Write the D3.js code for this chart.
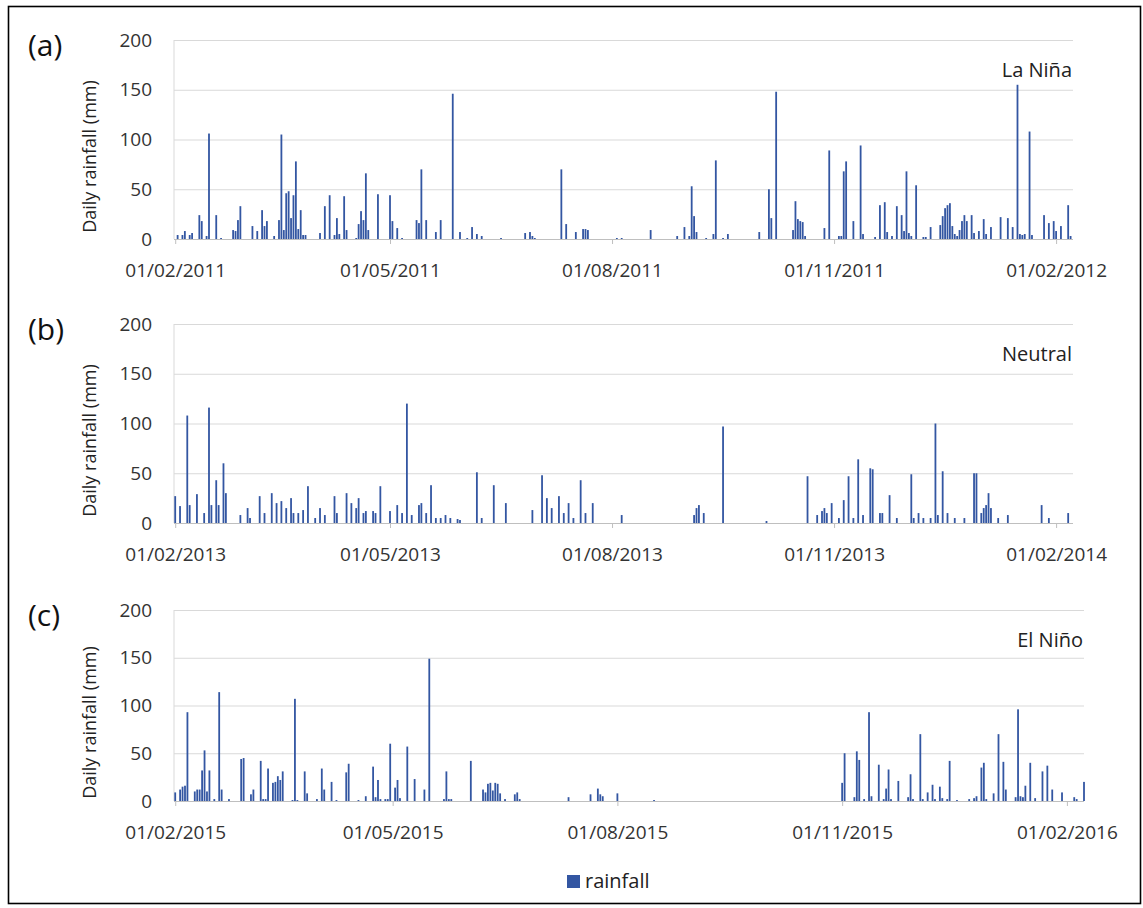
<!DOCTYPE html>
<html>
<head>
<meta charset="utf-8">
<script src="https://cdn.jsdelivr.net/npm/d3@7"></script>
<style>
  body { margin: 0; background: #fff; }
  svg text { font-family: "Open Sans", sans-serif; }
</style>
</head>
<body>
<svg id="chart" width="1143" height="908"></svg>
<script>
// Daily rainfall. Each entry is [days after 1 February, mm].
const laNina = [
  [1,4],[3,4],[4,8],[6,4],[7,6],[10,24],[11,18],[13,3],[14,106],[17,24],[19,1],[24,9],[25,8],[26,19],[27,33],
  [32,13],[34,8],[36,29],[37,13],[38,18],[41,3],[43,19],[44,105],[45,9],[46,46],[47,48],[48,21],[49,44],[50,78],
  [51,10],[52,29],[53,4],[54,4],[60,6],[62,33],[64,44],[66,4],[67,21],[68,5],[70,43],[71,9],[75,1],[76,15],[77,28],
  [78,19],[79,66],[80,9],[84,45],[89,44],[90,18],[92,11],[94,1],[100,19],[101,16],[102,70],[104,19],[108,7],[110,19],
  [115,146],[118,7],[121,1],[123,12],[125,5],[127,3],[135,1],[145,6],[147,7],[148,3],[149,1],[160,70],[162,15],
  [166,7],[169,10],[170,10],[171,9],[183,1],[185,1],[197,9],[208,3],[211,12],[213,3],[214,53],[215,23],[216,7],
  [220,1],[223,5],[224,79],[227,1],[229,5],[242,7],[246,50],[247,21],[249,148],[256,9],[257,38],[258,20],[259,18],
  [260,17],[261,3],[269,11],[271,89],[275,3],[276,3],[277,68],[278,78],[281,18],[284,94],[285,5],[290,2],[292,34],
  [294,37],[295,7],[297,3],[299,33],[301,24],[302,8],[303,68],[304,6],[305,3],[307,54],[310,2],[311,2],[313,12],
  [317,14],[318,23],[319,31],[320,34],[321,36],[322,13],[323,5],[324,3],[325,9],[326,18],[327,24],[328,18],[330,24],
  [331,6],[333,8],[335,20],[336,5],[338,12],[342,22],[345,21],[347,12],[349,155],[350,5],[351,4],[352,5],[354,108],
  [355,4],[360,24],[362,16],[364,18],[365,8],[367,13],[370,34],[371,3]
];

const neutral = [
  [0,27],[2,17],[5,108],[6,18],[9,29],[12,10],[14,116],[15,18],[17,43],[18,18],[20,60],[21,30],[27,8],[30,15],[31,5],
  [35,27],[37,10],[40,30],[42,20],[44,22],[46,15],[48,25],[49,10],[51,10],[53,13],[55,37],[58,5],[60,15],[62,8],
  [66,27],[67,10],[71,30],[73,20],[75,15],[76,25],[78,10],[79,12],[82,12],[83,10],[85,37],[89,12],[92,18],[94,10],
  [96,120],[98,8],[101,18],[102,20],[104,10],[106,38],[108,5],[110,5],[112,8],[114,5],[117,4],[118,3],[125,51],
  [127,5],[132,38],[137,20],[148,13],[152,48],[154,25],[156,15],[159,27],[161,10],[163,20],[165,5],[168,43],[170,10],
  [173,20],[185,8],[215,8],[216,15],[217,18],[219,10],[227,97],[245,2],[262,47],[266,8],[268,12],[269,15],[270,10],
  [272,20],[275,5],[277,23],[279,47],[281,5],[283,64],[285,8],[288,55],[289,54],[292,10],[293,10],[296,28],[299,5],
  [305,49],[306,5],[308,10],[310,5],[313,5],[315,100],[316,8],[318,52],[320,10],[323,5],[327,5],[331,50],[332,50],
  [334,10],[335,15],[336,18],[337,30],[338,15],[341,5],[345,8],[359,18],[362,5],[370,10]
];

const elNino = [
  [0,9],[2,12],[3,15],[4,16],[5,93],[8,10],[9,12],[10,12],[11,32],[12,53],[13,10],[14,32],[16,2],[18,114],[19,12],
  [22,2],[27,44],[28,45],[31,7],[32,12],[35,42],[36,2],[37,2],[38,34],[40,19],[41,20],[42,26],[43,22],[44,31],[48,1],
  [49,107],[50,1],[53,31],[54,8],[58,2],[60,34],[61,12],[64,20],[66,1],[70,30],[71,39],[75,1],[78,5],[81,36],[82,4],
  [83,22],[84,2],[86,2],[87,2],[88,60],[90,14],[91,22],[92,3],[95,57],[98,23],[102,12],[104,149],[110,2],[111,31],
  [112,2],[113,2],[121,42],[126,12],[127,9],[128,18],[129,19],[130,11],[131,19],[132,18],[133,8],[135,2],[139,7],
  [140,9],[141,2],[161,4],[170,7],[173,13],[174,7],[175,5],[181,8],[196,1],[273,19],[274,50],[278,4],[279,52],
  [280,43],[282,2],[284,93],[285,5],[288,38],[290,2],[291,13],[292,33],[293,2],[296,21],[300,4],[301,28],[302,2],
  [305,70],[306,2],[308,9],[310,17],[311,2],[313,15],[314,3],[316,2],[317,42],[320,1],[325,2],[327,3],[328,5],
  [330,35],[331,40],[332,2],[335,8],[337,70],[339,41],[340,12],[344,4],[345,96],[346,5],[347,4],[348,16],[350,40],
  [352,3],[355,31],[357,37],[359,12],[363,9],[368,4],[369,2],[372,20]
];

const yTicks = [0, 50, 100, 150, 200];
const monthTicks = [0, 3, 6, 9, 12];   // months after the start date that get a label
const seriesName = "rainfall";
const barColor = "#3356a2";

const panels = [
  { tag: "(a)", phase: "La Niña", start: "2011-02-01", data: laNina,  top: 40,  bottom: 239, right: 1073 },
  { tag: "(b)", phase: "Neutral", start: "2013-02-01", data: neutral, top: 324, bottom: 523, right: 1073 },
  { tag: "(c)", phase: "El Niño", start: "2015-02-01", data: elNino,  top: 610, bottom: 801, right: 1084 }
];

const left = 174;
const span = 372.5;  // days shown on each axis
const svg = d3.select("#chart");

// frame round the whole figure
svg.append("rect")
  .attr("x", 8.5).attr("y", 6.5).attr("width", 1132).attr("height", 897)
  .attr("fill", "none").attr("stroke", "#000").attr("stroke-width", 1.6);

panels.forEach(p => {
  const start = d3.utcParse("%Y-%m-%d")(p.start);
  const x = d3.scaleUtc()
    .domain([d3.utcHour.offset(start, -12), d3.utcHour.offset(start, span * 24 - 12)])
    .range([left, p.right]);
  const y = d3.scaleLinear().domain([0, 200]).range([p.bottom, p.top]);
  const g = svg.append("g");

  // gridlines
  g.append("g")
    .attr("transform", `translate(${left},0)`)
    .call(d3.axisLeft(y).tickValues(yTicks).tickSize(-(p.right - left)).tickFormat(""))
    .call(s => s.select(".domain").remove())
    .call(s => s.selectAll("line").attr("stroke", "#d9d9d9").attr("stroke-width", 1.2));

  // left edge of the plot
  g.append("line")
    .attr("x1", left).attr("x2", left).attr("y1", p.top).attr("y2", p.bottom)
    .attr("stroke", "#d9d9d9");

  // y tick labels
  g.append("g")
    .attr("transform", `translate(${left},0)`)
    .call(d3.axisLeft(y).tickValues(yTicks).tickSize(0).tickPadding(22))
    .call(s => s.select(".domain").remove())
    .call(s => s.selectAll("text")
      .attr("font-family", "Open Sans").attr("font-size", 19).attr("fill", "#333"));

  // bars
  const bw = 1.8;
  g.append("g").selectAll("rect")
    .data(p.data)
    .join("rect")
    .attr("x", d => x(d3.utcDay.offset(start, d[0])) - bw / 2)
    .attr("y", d => y(d[1]))
    .attr("width", bw)
    .attr("height", d => y(0) - y(d[1]))
    .attr("fill", barColor);

  // x axis
  const tickDates = monthTicks.map(m => d3.utcMonth.offset(start, m));
  g.append("g")
    .attr("transform", `translate(0,${p.bottom})`)
    .call(d3.axisBottom(x).tickValues(tickDates).tickFormat(d3.utcFormat("%d/%m/%Y"))
      .tickSize(5).tickPadding(20))
    .call(s => s.select(".domain").attr("stroke", "#bfbfbf").attr("d", `M${left},0.5H${p.right}`))
    .call(s => s.selectAll("line").attr("stroke", "#bfbfbf"))
    .call(s => s.selectAll("text")
      .attr("font-family", "Open Sans").attr("font-size", 19).attr("fill", "#333"));

  // phase label
  g.append("text")
    .attr("x", p.right - 1).attr("y", p.top + 37)
    .attr("text-anchor", "end")
    .attr("font-size", 20).attr("fill", "#222")
    .text(p.phase);

  // panel letter
  g.append("text")
    .attr("x", 28).attr("y", p.top + 16)
    .attr("font-family", "Liberation Sans, Arial, sans-serif")
    .attr("font-size", 30).attr("fill", "#111")
    .text(p.tag);

  // y axis title
  const cy = (p.top + p.bottom) / 2 + 17;
  g.append("text")
    .attr("transform", `translate(96,${cy}) rotate(-90)`)
    .attr("text-anchor", "middle")
    .attr("font-family", "Liberation Sans, Arial, sans-serif")
    .attr("font-size", 18).attr("fill", "#222")
    .text("Daily rainfall (mm)");
});

// legend
const legend = svg.append("g").attr("transform", "translate(567,875)");
legend.append("rect").attr("width", 13).attr("height", 13).attr("fill", barColor);
legend.append("text")
  .attr("x", 18).attr("y", 13)
  .attr("font-size", 20).attr("fill", "#222")
  .text(seriesName);
</script>
</body>
</html>
